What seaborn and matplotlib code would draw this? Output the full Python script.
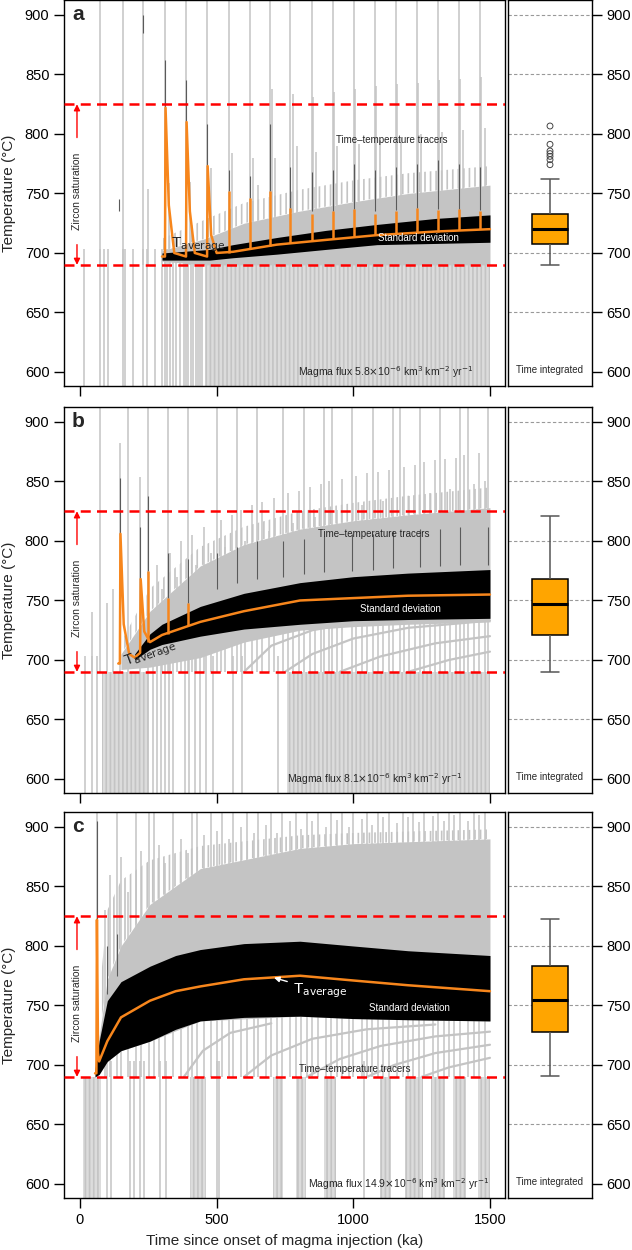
import numpy as np
import pandas as pd
import seaborn as sns
import matplotlib.pyplot as plt

# -----------------------------
# Values
# -----------------------------
yticks = [600, 650, 700, 750, 800, 850, 900]
xticks = [0, 500, 1000, 1500]
zircon_lo, zircon_hi = 690, 825

# ---- panel a (5.8e-6) ----
low_t_a = [15, 73, 88, 102, 157, 165, 194, 230, 245, 274, 300, 311, 318, 329, 340,
           352, 366, 380, 388, 395, 405, 415, 425, 432, 440, 448]
low_span_a = [(457, 1500)]
tall_a = [73, 157, 230, 311, 388, 465, 545, 622, 695, 768, 849, 926, 1003, 1080,
          1157, 1233, 1310, 1387, 1464]
mid_t_a = [249, 326, 403, 479, 557, 634, 652, 702, 714, 780, 793, 853, 864, 930, 942,
           1007, 1019, 1084, 1096, 1161, 1173, 1237, 1249, 1314, 1326, 1391, 1403, 1468, 1480]
mid_pk_a = [754, 759, 760, 771, 784, 780, 757, 838, 780, 834, 790, 831, 785, 835, 790,
            838, 792, 840, 795, 842, 797, 843, 800, 845, 802, 846, 803, 848, 805]
tr_t_a = [300, 457, 600, 800, 1000, 1200, 1500]
tr_lo_a = [693, 690, 690, 690, 690, 690, 690]
tr_hi_a = [702, 712, 725, 735, 743, 750, 757]
comb_a = [712, 728, 742, 753, 761, 767, 773]
curves_a = []
sd_t_a = [300, 475, 560, 720, 900, 1087, 1300, 1500]
sd_hi_a = [700, 703, 707, 713, 719, 724, 729, 732]
sd_lo_a = [694, 694, 696, 699, 703, 707, 708, 709]
dark_t_a = [143, 230, 311, 388, 465, 545, 622, 695, 768, 849, 926, 1003, 1080, 1157,
            1233, 1310, 1387, 1464]
dark_lo_a = [735, 885, 822, 810, 773, 752, 746, 752, 738, 735, 735, 737, 735, 736,
             738, 737, 737, 736]
dark_hi_a = [745, 900, 862, 845, 808, 770, 765, 808, 772, 768, 770, 775, 770, 772,
             775, 778, 775, 772]
avg_t_a = [300, 311, 313, 325, 345, 388, 390, 402, 420, 465, 467, 480, 500, 560, 720,
           900, 1087, 1300, 1500]
avg_a = [697, 697, 822, 740, 700, 697, 810, 735, 700, 697, 773, 715, 700, 701, 707,
         711, 715, 718, 720]
or_t_a = [545, 622, 695, 768, 849, 926, 1003, 1080, 1157, 1233, 1310, 1387, 1464]
or_pk_a = [752, 746, 752, 738, 733, 735, 737, 733, 735, 738, 736, 737, 735]
or_lo_a = [700, 703, 706, 708, 710, 712, 714, 715, 716, 717, 718, 719, 720]
box_a = [689.6, 707.6, 720.4, 732.5, 762.2]
out_a = [806.7, 791.3, 785.7, 783.5, 781.2, 778.4, 774.2]

# ---- panel b (8.1e-6) ----
low_t_b = [18, 43, 63, 267, 280, 295, 310, 325, 340, 384, 400, 420, 440, 460, 487,
           560, 592, 725]
low_span_b = [(80, 253), (757, 1500)]
tall_b = [73, 175, 249, 322, 395, 501, 575, 648, 743, 820, 893, 922, 995, 1072,
          1145, 1171, 1244, 1317, 1390, 1420, 1493]
mid_t_b = [44, 100, 120, 146, 220, 280, 300, 330, 355, 370, 410, 425, 455, 480, 515,
           530, 555, 590, 605, 630, 665, 690, 710, 760, 780, 800, 840, 860, 880, 910,
           940, 960, 1010, 1030, 1050, 1090, 1110, 1130, 1185, 1205, 1225, 1260, 1280,
           1300, 1335, 1355, 1375, 1405, 1440, 1460, 1480]
mid_pk_b = [740, 748, 760, 882, 854, 780, 760, 790, 770, 800, 805, 780, 812, 790, 818,
            795, 822, 826, 800, 830, 833, 808, 836, 840, 815, 842, 845, 820, 848, 850,
            826, 852, 855, 830, 857, 858, 834, 860, 862, 838, 864, 866, 840, 868, 869,
            844, 870, 872, 848, 874, 850]
tr_t_b = [150, 256, 440, 600, 805, 1000, 1200, 1500]
tr_lo_b = [692, 694, 702, 715, 725, 728, 730, 732]
tr_hi_b = [705, 741, 779, 797, 810, 817, 822, 828]
comb_b = [715, 760, 795, 812, 825, 832, 838, 845]
curves_b = [([600, 700, 850, 1000], [690, 712, 725, 731]),
            ([750, 850, 1000, 1200, 1500], [690, 705, 718, 727, 733]),
            ([950, 1100, 1300, 1500], [690, 703, 714, 720]),
            ([1200, 1350, 1500], [690, 700, 707])]
sd_t_b = [200, 256, 300, 440, 600, 805, 1000, 1200, 1500]
sd_hi_b = [705, 722, 730, 745, 756, 765, 770, 773, 776]
sd_lo_b = [700, 709, 713, 720, 726, 730, 733, 734, 735]
dark_t_b = [146, 220, 249, 322, 395, 501, 575, 648, 743, 820, 893, 995, 1072, 1145,
            1244, 1317, 1390, 1493]
dark_lo_b = [806, 768, 775, 752, 748, 760, 765, 768, 770, 772, 774, 775, 776, 777,
             778, 779, 780, 780]
dark_hi_b = [853, 812, 838, 790, 785, 790, 795, 800, 800, 802, 804, 806, 806, 808,
             810, 810, 812, 812]
avg_t_b = [140, 146, 148, 160, 180, 200, 220, 222, 235, 256, 300, 440, 600, 805,
           1000, 1200, 1500]
avg_b = [697, 697, 806, 730, 705, 702, 706, 768, 724, 715, 721, 732, 741, 750, 752,
         754, 755]
or_t_b = [249, 322, 395]
or_pk_b = [775, 752, 748]
or_lo_b = [715, 722, 729]
box_b = [690, 721, 747, 768, 821]
out_b = []

# ---- panel c (14.9e-6) ----
low_t_c = [99, 114, 183, 197, 220, 235, 293, 315, 500, 510, 1040]
low_span_c = [(11, 77), (402, 461), (706, 743), (790, 827), (893, 937), (1098, 1138),
              (1189, 1255), (1284, 1335), (1365, 1412), (1456, 1500)]
tall_c = [62, 135, 205, 252, 270, 340, 410, 428, 480, 520, 560, 610, 650, 700, 740,
          790, 830, 870, 920, 960, 1000, 1050, 1090, 1130, 1180, 1220, 1260, 1310,
          1350, 1390, 1440, 1480]
mid_t_c = [90, 110, 150, 175, 225, 290, 310, 370, 395, 455, 500, 545, 590, 635, 680,
           720, 770, 810, 850, 900, 940, 985, 1030, 1070, 1110, 1160, 1200, 1240, 1290,
           1330, 1370, 1420, 1460]
mid_pk_c = [830, 860, 875, 845, 880, 885, 870, 890, 878, 893, 897, 890, 900, 895, 902,
            895, 905, 898, 905, 900, 906, 900, 907, 902, 908, 903, 908, 904, 909, 905,
            910, 905, 910]
tr_t_c = [55, 100, 150, 256, 440, 805, 1000, 1500]
tr_lo_c = [690, 703, 712, 720, 737, 741, 739, 737]
tr_hi_c = [700, 772, 800, 835, 865, 882, 886, 890]
comb_c = [720, 830, 855, 872, 884, 893, 895, 898]
curves_c = [([380, 450, 550, 700], [690, 712, 727, 735]),
            ([600, 700, 850, 1050, 1300], [690, 708, 722, 730, 734]),
            ([830, 950, 1100, 1300, 1500], [690, 705, 716, 724, 728]),
            ([1050, 1150, 1300, 1500], [690, 700, 710, 717]),
            ([1250, 1350, 1500], [690, 698, 706])]
sd_t_c = [55, 70, 100, 150, 256, 350, 440, 600, 805, 1000, 1200, 1500]
sd_hi_c = [697, 720, 754, 770, 783, 792, 797, 802, 804, 800, 796, 792]
sd_lo_c = [690, 692, 703, 712, 720, 730, 737, 740, 741, 739, 738, 737]
dark_t_c = [62, 100, 135]
dark_lo_c = [822, 760, 775]
dark_hi_c = [905, 800, 810]
avg_t_c = [55, 60, 62, 66, 70, 100, 150, 256, 350, 440, 600, 805, 1000, 1200, 1500]
avg_c = [693, 693, 822, 710, 703, 720, 740, 754, 762, 766, 772, 775, 771, 767, 762]
or_t_c = []
or_pk_c = []
or_lo_c = []
box_c = [690.6, 728.1, 754.2, 783.1, 822.9]
out_c = []

flux = ["5.8", "8.1", "14.9"]

# -----------------------------
# Styling
# -----------------------------
sns.set_theme(style="ticks")
plt.rcParams['font.family'] = ['Liberation Sans', 'DejaVu Sans']
plt.rcParams['axes.linewidth'] = 1.0
plt.rcParams['axes.edgecolor'] = 'black'
plt.rcParams['hatch.linewidth'] = 1.2

GRAY = '#c4c4c4'
ORANGE = '#f7861c'
plt.rcParams['hatch.color'] = GRAY
YMIN, YMAX = 588.2, 912.6
XMIN, XMAX = -58.5, 1555

panels = [
    dict(letter='a', low_t=low_t_a, low_span=low_span_a, tall=tall_a, mid_t=mid_t_a,
         mid_pk=mid_pk_a, tr_t=tr_t_a, tr_lo=tr_lo_a, tr_hi=tr_hi_a, comb=comb_a,
         curves=curves_a, sd_t=sd_t_a, sd_hi=sd_hi_a, sd_lo=sd_lo_a, dark_t=dark_t_a,
         dark_lo=dark_lo_a, dark_hi=dark_hi_a, avg_t=avg_t_a, avg=avg_a, or_t=or_t_a,
         or_pk=or_pk_a, or_lo=or_lo_a, box=box_a, out=out_a, flux=flux[0]),
    dict(letter='b', low_t=low_t_b, low_span=low_span_b, tall=tall_b, mid_t=mid_t_b,
         mid_pk=mid_pk_b, tr_t=tr_t_b, tr_lo=tr_lo_b, tr_hi=tr_hi_b, comb=comb_b,
         curves=curves_b, sd_t=sd_t_b, sd_hi=sd_hi_b, sd_lo=sd_lo_b, dark_t=dark_t_b,
         dark_lo=dark_lo_b, dark_hi=dark_hi_b, avg_t=avg_t_b, avg=avg_b, or_t=or_t_b,
         or_pk=or_pk_b, or_lo=or_lo_b, box=box_b, out=out_b, flux=flux[1]),
    dict(letter='c', low_t=low_t_c, low_span=low_span_c, tall=tall_c, mid_t=mid_t_c,
         mid_pk=mid_pk_c, tr_t=tr_t_c, tr_lo=tr_lo_c, tr_hi=tr_hi_c, comb=comb_c,
         curves=curves_c, sd_t=sd_t_c, sd_hi=sd_hi_c, sd_lo=sd_lo_c, dark_t=dark_t_c,
         dark_lo=dark_lo_c, dark_hi=dark_hi_c, avg_t=avg_t_c, avg=avg_c, or_t=or_t_c,
         or_pk=or_pk_c, or_lo=or_lo_c, box=box_c, out=out_c, flux=flux[2]),
]

W, H = 632, 1250
fig = plt.figure(figsize=(W / 100, H / 100), dpi=100)
tops = [0, 407, 812]
ph = 386

for i, p in enumerate(panels):
    bottom = 1 - (tops[i] + ph) / H
    ax = fig.add_axes([64 / W, bottom, 441 / W, ph / H])
    axb = fig.add_axes([508 / W, bottom, 84 / W, ph / H])

    # tracer paths (grey) - striped to look like bundles of single tracer lines
    for s, e in p['low_span']:
        ax.fill_between([s, e], YMIN, zircon_lo, facecolor='#dcdcdc', edgecolor=GRAY,
                        hatch='||||', lw=0, zorder=1)
    ax.vlines(p['low_t'], YMIN, 703, color=GRAY, lw=1.1, zorder=1)
    ax.fill_between(p['tr_t'], p['tr_hi'], p['comb'], facecolor='none', edgecolor=GRAY,
                    hatch='|||', lw=0, zorder=1)
    ax.fill_between(p['tr_t'], p['tr_lo'], p['tr_hi'], color=GRAY, lw=0, zorder=1)
    for cx, cy in p['curves']:
        ax.plot(cx, cy, color=GRAY, lw=1.6, zorder=1)
    ax.vlines(p['tall'], zircon_lo, YMAX, color=GRAY, lw=1.1, zorder=2)
    ax.vlines(p['mid_t'], zircon_lo, p['mid_pk'], color=GRAY, lw=1.1, zorder=2)

    # standard deviation
    ax.fill_between(p['sd_t'], p['sd_lo'], p['sd_hi'], color='black', lw=0, zorder=3)
    ax.vlines(p['dark_t'], p['dark_lo'], p['dark_hi'], color='#5a5a5a', lw=0.8, zorder=3)

    # average temperature
    if p['or_t']:
        ax.vlines(p['or_t'], p['or_lo'], p['or_pk'], color=ORANGE, lw=1.8, zorder=4)
    sns.lineplot(x=p['avg_t'], y=p['avg'], ax=ax, color=ORANGE, lw=1.8,
                 sort=False, estimator=None, zorder=4)

    # zircon saturation window
    for yv in (zircon_lo, zircon_hi):
        ax.axhline(yv, color='red', lw=1.8, ls=(0, (4, 2.5)), zorder=5)
    arrow = dict(arrowstyle='-|>', color='red', lw=1.0, mutation_scale=9,
                 shrinkA=0, shrinkB=0)
    ax.annotate('', xy=(-11, zircon_hi), xytext=(-11, 797), arrowprops=arrow, zorder=5)
    ax.annotate('', xy=(-11, zircon_lo), xytext=(-11, 707), arrowprops=arrow, zorder=5)
    ax.text(-11, 752, 'Zircon saturation', rotation=90, ha='center', va='center',
            fontsize=7.5, zorder=6)

    ax.text(0.018, 900, p['letter'], transform=ax.get_yaxis_transform(),
            fontsize=15, fontweight='bold', va='center', ha='left', zorder=6)

    flux_txt = ('Magma flux ' + p['flux'] + r'$\times$10$^{-6}$ km$^{3}$ km$^{-2}$ yr$^{-1}$')
    fx = [1120, 1079, 1167][i]
    ax.text(fx, 600, flux_txt, ha='center', va='center', fontsize=7.5, zorder=6)

    ax.set_xlim(XMIN, XMAX)
    ax.set_ylim(YMIN, YMAX)
    ax.set_xticks(xticks)
    ax.set_yticks(yticks)
    ax.tick_params(direction='out', length=7, width=1, labelsize=10.5, colors='black')
    ax.set_ylabel('Temperature (°C)', fontsize=11, labelpad=6)
    if i < 2:
        ax.set_xticklabels([])
        ax.set_xlabel('')
    else:
        ax.set_xlabel('Time since onset of magma injection (ka)', fontsize=11, labelpad=5)
    for s in ax.spines.values():
        s.set_visible(True)
        s.set_color('black')

    # time-integrated box
    for yv in yticks[1:]:
        axb.axhline(yv, color='#999999', lw=0.8, ls=(0, (3, 2)), zorder=0)
    sns.boxplot(y=p['box'], ax=axb, width=0.42, color='#FFA500', saturation=1,
                linecolor='black', linewidth=1.1, showfliers=False,
                whiskerprops=dict(color='#555555'), capprops=dict(color='#555555'),
                medianprops=dict(color='black', linewidth=2.2))
    if p['out']:
        axb.scatter(np.zeros(len(p['out'])), p['out'], s=18, facecolors='none',
                    edgecolors='#444444', linewidths=0.7, zorder=5)
    axb.set_xlim(-0.5, 0.5)
    axb.set_ylim(YMIN, YMAX)
    axb.set_xticks([])
    axb.yaxis.tick_right()
    axb.set_yticks(yticks)
    axb.set_ylabel('')
    axb.tick_params(axis='y', direction='out', length=7, width=1, labelsize=10.5,
                    colors='black')
    axb.text(0.5, 602, 'Time integrated', transform=axb.get_yaxis_transform(),
             ha='center', va='center', fontsize=7)
    for s in axb.spines.values():
        s.set_visible(True)
        s.set_color('black')

    panels[i]['ax'] = ax

# text labels inside the panels
ax_a, ax_b, ax_c = [p['ax'] for p in panels]
ax_a.text(1141, 795, 'Time\u2013temperature tracers', ha='center', va='center', fontsize=7, zorder=6)
ax_a.text(1237, 713, 'Standard deviation', ha='center', va='center', fontsize=7, color='white', zorder=6)
ax_a.text(333, 707, r'T$_{\mathrm{average}}$', ha='left', va='center', fontsize=11, zorder=6)

ax_b.text(1076, 806, 'Time\u2013temperature tracers', ha='center', va='center', fontsize=7, zorder=6)
ax_b.text(1171, 743, 'Standard deviation', ha='center', va='center', fontsize=7, color='white', zorder=6)
ax_b.text(165, 697, r'T$_{\mathrm{average}}$', ha='left', va='center', fontsize=11, rotation=20,
          rotation_mode='anchor', zorder=6)

ax_c.text(1006, 697, 'Time\u2013temperature tracers', ha='center', va='center', fontsize=7, zorder=6)
ax_c.text(1207, 748, 'Standard deviation', ha='center', va='center', fontsize=7, color='white', zorder=6)
ax_c.annotate(r'T$_{\mathrm{average}}$', xy=(700, 774), xytext=(780, 762), fontsize=11,
              color='white', va='center', ha='left', zorder=6,
              arrowprops=dict(arrowstyle='-|>', color='white', lw=1, mutation_scale=8))

fig.savefig('out.png', dpi=100)
